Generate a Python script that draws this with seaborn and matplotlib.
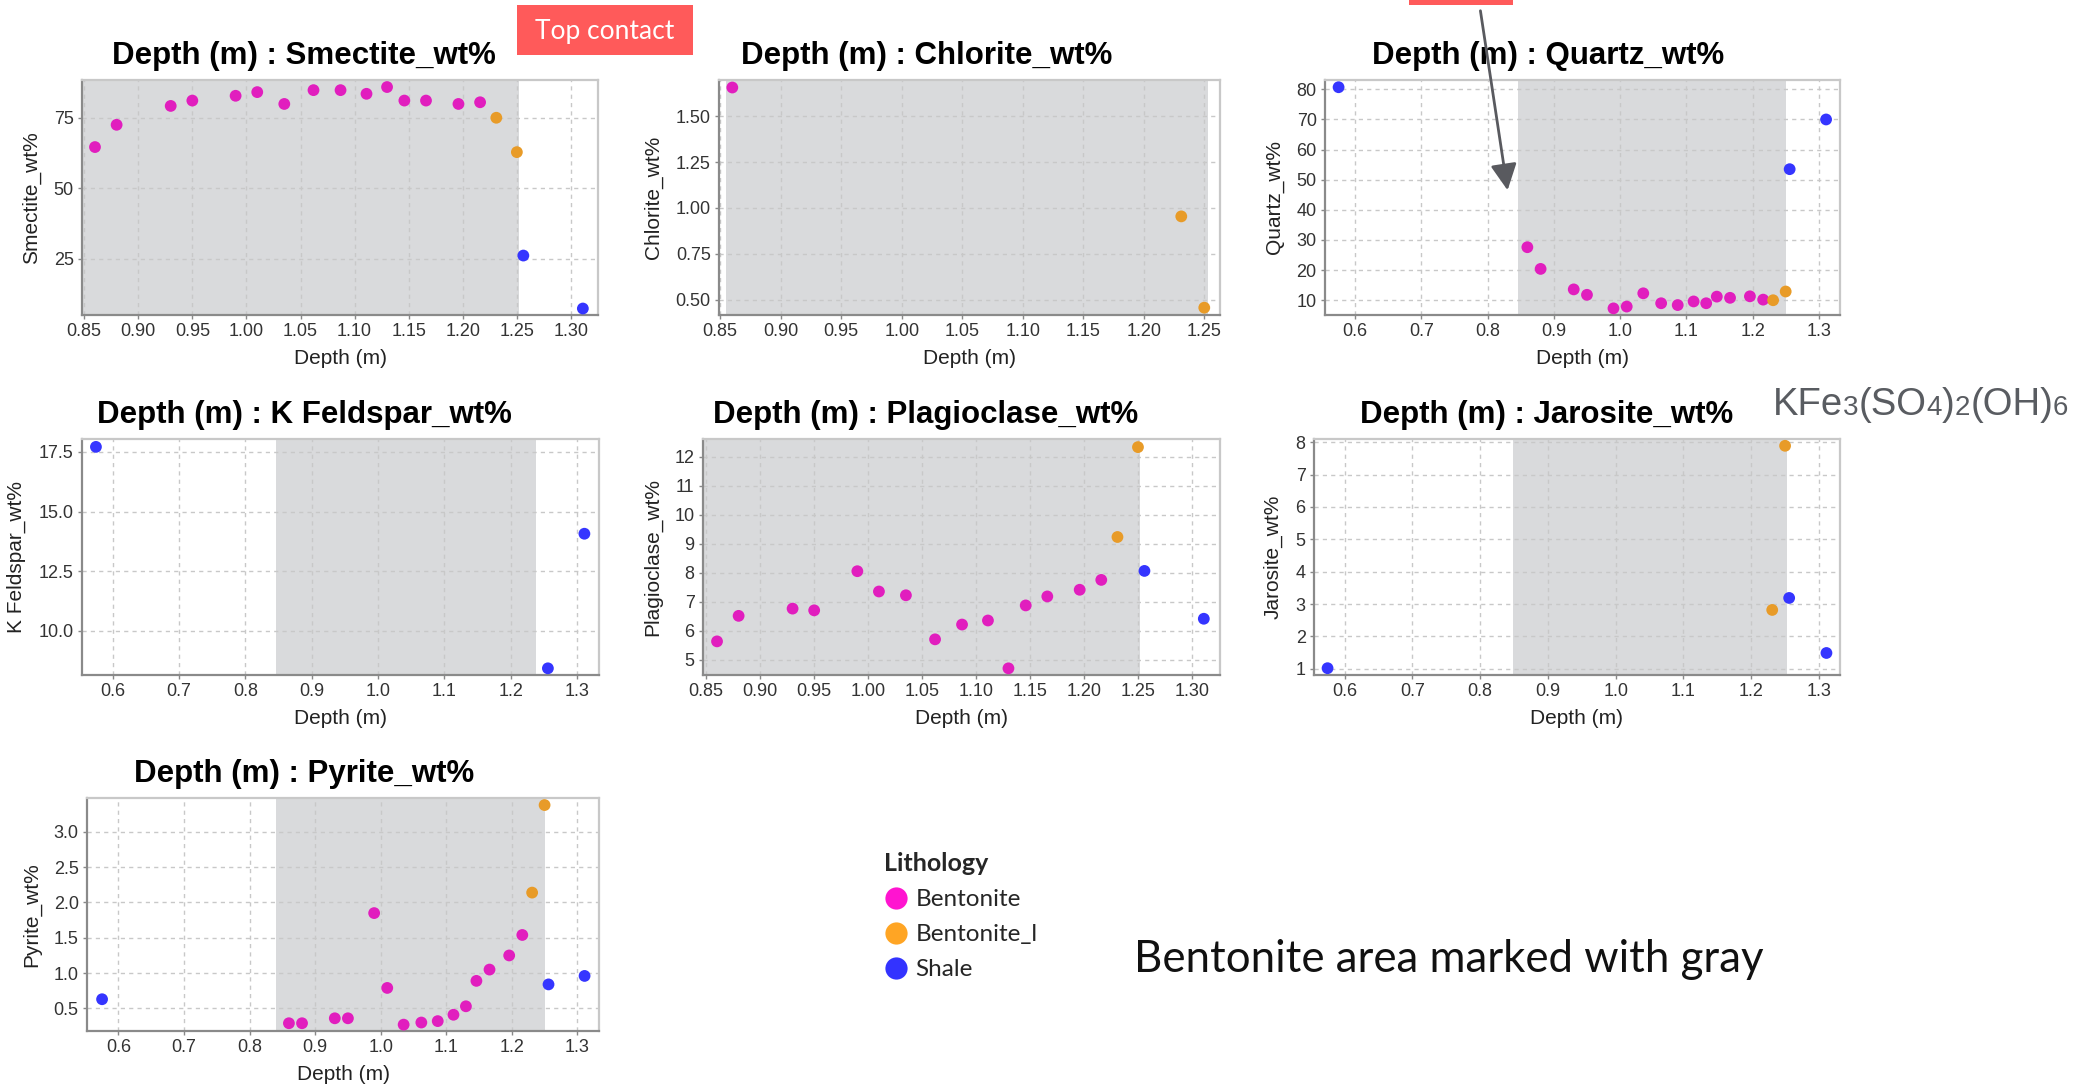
import numpy as np
import pandas as pd
import matplotlib
matplotlib.use("Agg")
import matplotlib.pyplot as plt
import seaborn as sns
from matplotlib.lines import Line2D
from matplotlib.patches import Rectangle, FancyArrowPatch
from matplotlib.ticker import FixedLocator, FormatStrFormatter

# ---------------- data ----------------
lithologies = ["Bentonite", "Bentonite_l", "Shale"]
lith_colors = ["#E11EBE", "#E89B28", "#3535FF"]
legend_colors = ["#FF14D0", "#FFA524", "#3333FF"]

depth_bentonite = [0.86, 0.88, 0.93, 0.95, 0.99, 1.01, 1.035, 1.062, 1.087, 1.111, 1.13, 1.146, 1.166, 1.196, 1.216]
depth_bentonite_l = [1.231, 1.25]
depth_shale = [0.575, 1.256, 1.311]

N = None
smectite_bentonite = [64.6, 72.5, 79.2, 81.1, 82.8, 84.1, 79.9, 84.8, 84.8, 83.5, 85.9, 81.1, 81.1, 79.9, 80.5]
smectite_bentonite_l = [75.0, 62.8]
smectite_shale = [N, 26.1, 7.3]

chlorite_bentonite = [1.657, N, N, N, N, N, N, N, N, N, N, N, N, N, N]
chlorite_bentonite_l = [0.954, 0.456]
chlorite_shale = [N, N, N]

quartz_bentonite = [27.6, 20.4, 13.6, 11.8, 7.3, 7.9, 12.3, 9.0, 8.4, 9.6, 9.0, 11.2, 10.8, 11.3, 10.2]
quartz_bentonite_l = [10.0, 12.9]
quartz_shale = [80.7, 53.5, 70.0]

kfeldspar_bentonite = [N, N, N, N, N, N, N, N, N, N, N, N, N, N, N]
kfeldspar_bentonite_l = [N, N]
kfeldspar_shale = [17.71, 8.43, 14.07]

plagioclase_bentonite = [5.64, 6.52, 6.77, 6.71, 8.06, 7.36, 7.23, 5.71, 6.22, 6.36, 4.71, 6.88, 7.19, 7.42, 7.76]
plagioclase_bentonite_l = [9.24, 12.34]
plagioclase_shale = [N, 8.07, 6.42]

jarosite_bentonite = [N, N, N, N, N, N, N, N, N, N, N, N, N, N, N]
jarosite_bentonite_l = [2.82, 7.89]
jarosite_shale = [1.02, 3.19, 1.49]

pyrite_bentonite = [0.29, 0.29, 0.36, 0.36, 1.85, 0.79, 0.27, 0.30, 0.32, 0.41, 0.53, 0.89, 1.05, 1.25, 1.54]
pyrite_bentonite_l = [2.14, 3.38]
pyrite_shale = [0.63, 0.84, 0.96]

minerals = ["Smectite_wt%", "Chlorite_wt%", "Quartz_wt%", "K Feldspar_wt%",
            "Plagioclase_wt%", "Jarosite_wt%", "Pyrite_wt%"]
mineral_values = {
    "Smectite_wt%": (smectite_bentonite, smectite_bentonite_l, smectite_shale),
    "Chlorite_wt%": (chlorite_bentonite, chlorite_bentonite_l, chlorite_shale),
    "Quartz_wt%": (quartz_bentonite, quartz_bentonite_l, quartz_shale),
    "K Feldspar_wt%": (kfeldspar_bentonite, kfeldspar_bentonite_l, kfeldspar_shale),
    "Plagioclase_wt%": (plagioclase_bentonite, plagioclase_bentonite_l, plagioclase_shale),
    "Jarosite_wt%": (jarosite_bentonite, jarosite_bentonite_l, jarosite_shale),
    "Pyrite_wt%": (pyrite_bentonite, pyrite_bentonite_l, pyrite_shale),
}

# bentonite (gray) interval per panel, axis ranges and ticks
shade_ranges = [(0.845, 1.2517), (0.855, 1.253), (0.846, 1.250), (0.846, 1.2375),
                (0.845, 1.252), (0.849, 1.253), (0.840, 1.251)]
x_limits = [(0.848, 1.325), (0.849, 1.263), (0.5545, 1.332), (0.554, 1.333),
            (0.847, 1.326), (0.555, 1.331), (0.552, 1.333)]
y_limits = [(5.0, 88.4), (0.416, 1.698), (5.1, 83.1), (8.15, 18.04),
            (4.48, 12.62), (0.81, 8.10), (0.18, 3.48)]
x_ticks_fine = [0.85, 0.90, 0.95, 1.00, 1.05, 1.10, 1.15, 1.20, 1.25, 1.30]
x_ticks_coarse = [0.6, 0.7, 0.8, 0.9, 1.0, 1.1, 1.2, 1.3]
x_ticks = [x_ticks_fine, x_ticks_fine[:-1], x_ticks_coarse, x_ticks_coarse,
           x_ticks_fine, x_ticks_coarse, x_ticks_coarse]
x_fmt = ["%.2f", "%.2f", "%.1f", "%.1f", "%.2f", "%.1f", "%.1f"]
y_ticks = [[25, 50, 75], [0.50, 0.75, 1.00, 1.25, 1.50], [10, 20, 30, 40, 50, 60, 70, 80],
           [10.0, 12.5, 15.0, 17.5], [5, 6, 7, 8, 9, 10, 11, 12], [1, 2, 3, 4, 5, 6, 7, 8],
           [0.5, 1.0, 1.5, 2.0, 2.5, 3.0]]
y_fmt = ["%d", "%.2f", "%d", "%.1f", "%d", "%d", "%.1f"]

# long table
rows = []
depth_lists = [depth_bentonite, depth_bentonite_l, depth_shale]
for m in minerals:
    for lith, depths, vals in zip(lithologies, depth_lists, mineral_values[m]):
        for d, v in zip(depths, vals):
            if v is not None:
                rows.append({"Mineral": m, "Lithology": lith, "Depth (m)": d, "Value": v})
df = pd.DataFrame(rows)

# ---------------- layout (pixels) ----------------
W, H = 2080, 1089
# left, right, top, bottom
boxes = [(82, 598, 80, 315), (719, 1220, 80, 315), (1325, 1840, 80, 315),
         (82, 599, 439, 675), (703, 1220, 439, 675), (1314, 1840, 439, 675),
         (87, 599, 798, 1031)]
title_x = [304, 927, 1548, 304, 926, 1547, 304]

sns.set_style("white")
plt.rcParams["font.family"] = ["Liberation Sans", "DejaVu Sans"]

fig = plt.figure(figsize=(W / 100, H / 100), dpi=100)
palette = dict(zip(lithologies, lith_colors))

for i, m in enumerate(minerals):
    l, r, t, b = boxes[i]
    ax = fig.add_axes([l / W, 1 - b / H, (r - l) / W, (b - t) / H])
    ax.axvspan(shade_ranges[i][0], shade_ranges[i][1], color="#D9DADC", lw=0, zorder=0.1)
    sub = df[df["Mineral"] == m]
    sns.scatterplot(data=sub, x="Depth (m)", y="Value", hue="Lithology",
                    palette=palette, hue_order=lithologies, s=72, linewidth=0,
                    legend=False, ax=ax, zorder=3)
    ax.set_xlim(*x_limits[i])
    ax.set_ylim(*y_limits[i])
    ax.xaxis.set_major_locator(FixedLocator(x_ticks[i]))
    ax.yaxis.set_major_locator(FixedLocator(y_ticks[i]))
    ax.xaxis.set_major_formatter(FormatStrFormatter(x_fmt[i]))
    ax.yaxis.set_major_formatter(FormatStrFormatter(y_fmt[i]))
    ax.grid(True, color="#C8C8C8", linestyle=(0, (3, 3)), linewidth=1.0)
    ax.set_axisbelow(True)
    ax.tick_params(axis="both", length=3, width=1, color="#888888",
                   labelcolor="#333333", labelsize=13, pad=3,
                   bottom=True, left=True)
    ax.set_xlabel("Depth (m)", fontsize=15, color="#222222", labelpad=6)
    ax.set_ylabel(m, fontsize=15, color="#222222", labelpad=9)
    for side in ["left", "bottom"]:
        ax.spines[side].set_color("#8A8A8A")
        ax.spines[side].set_linewidth(1.6)
    for side in ["top", "right"]:
        ax.spines[side].set_color("#C8C8C8")
        ax.spines[side].set_linewidth(1.6)
    fig.text(title_x[i] / W, 1 - (t - 16) / H, f"Depth (m) : {m}", ha="center",
             va="baseline", fontsize=22.5, fontweight="bold", color="black")

# ---------------- overlay annotations (pixel coordinates) ----------------
ov = fig.add_axes([0, 0, 1, 1], zorder=10)
ov.set_xlim(0, W)
ov.set_ylim(H, 0)
ov.axis("off")
ov.patch.set_visible(False)

# "Top contact" box
ov.add_patch(Rectangle((517, 5), 176, 50, facecolor="#FF5A5A", edgecolor="none"))
ov.text(605, 31, "Top contact", ha="center", va="center", color="white",
        fontsize=19, family=["Lato", "DejaVu Sans"])
# second (cut-off) box + arrow
ov.add_patch(Rectangle((1409, 0), 104, 5, facecolor="#FF5A5A", edgecolor="none"))
ov.add_patch(FancyArrowPatch((1480, 8), (1508, 193),
                             arrowstyle="-|>,head_length=0.4,head_width=0.2",
                             mutation_scale=40, lw=2, color="#595A5F"))

# formula
renderer = fig.canvas.get_renderer()
pieces = [("KFe", 27.5), ("3", 20), ("(SO", 27.5), ("4", 20), (")", 27.5), ("2", 20),
          ("(OH)", 27.5), ("6", 20)]
xpos = 1773
for txt, fs in pieces:
    tt = ov.text(xpos, 415, txt, ha="left", va="baseline", fontsize=fs,
                 color="#595C61", family=["Liberation Sans", "DejaVu Sans"])
    xpos += tt.get_window_extent(renderer).width

# gray-area note
ov.text(1134, 972, "Bentonite area marked with gray", ha="left", va="baseline",
        fontsize=31.5, color="#111111", family=["Lato", "DejaVu Sans"])

# legend
handles = [Line2D([0], [0], marker="o", linestyle="none", markersize=16,
                  markerfacecolor=c, markeredgewidth=0) for c in legend_colors]
leg = ov.legend(handles, lithologies, title="Lithology", loc="upper left",
                bbox_to_anchor=(884, 852), bbox_transform=ov.transData,
                frameon=False, handlelength=1.0, handletextpad=0.3,
                labelspacing=0.58, borderpad=0, borderaxespad=0,
                prop={"family": ["Lato", "DejaVu Sans"], "size": 17.5},
                title_fontproperties={"family": ["Lato", "DejaVu Sans"],
                                      "size": 18, "weight": "bold"},
                alignment="left")

fig.savefig("out.png", dpi=100)
